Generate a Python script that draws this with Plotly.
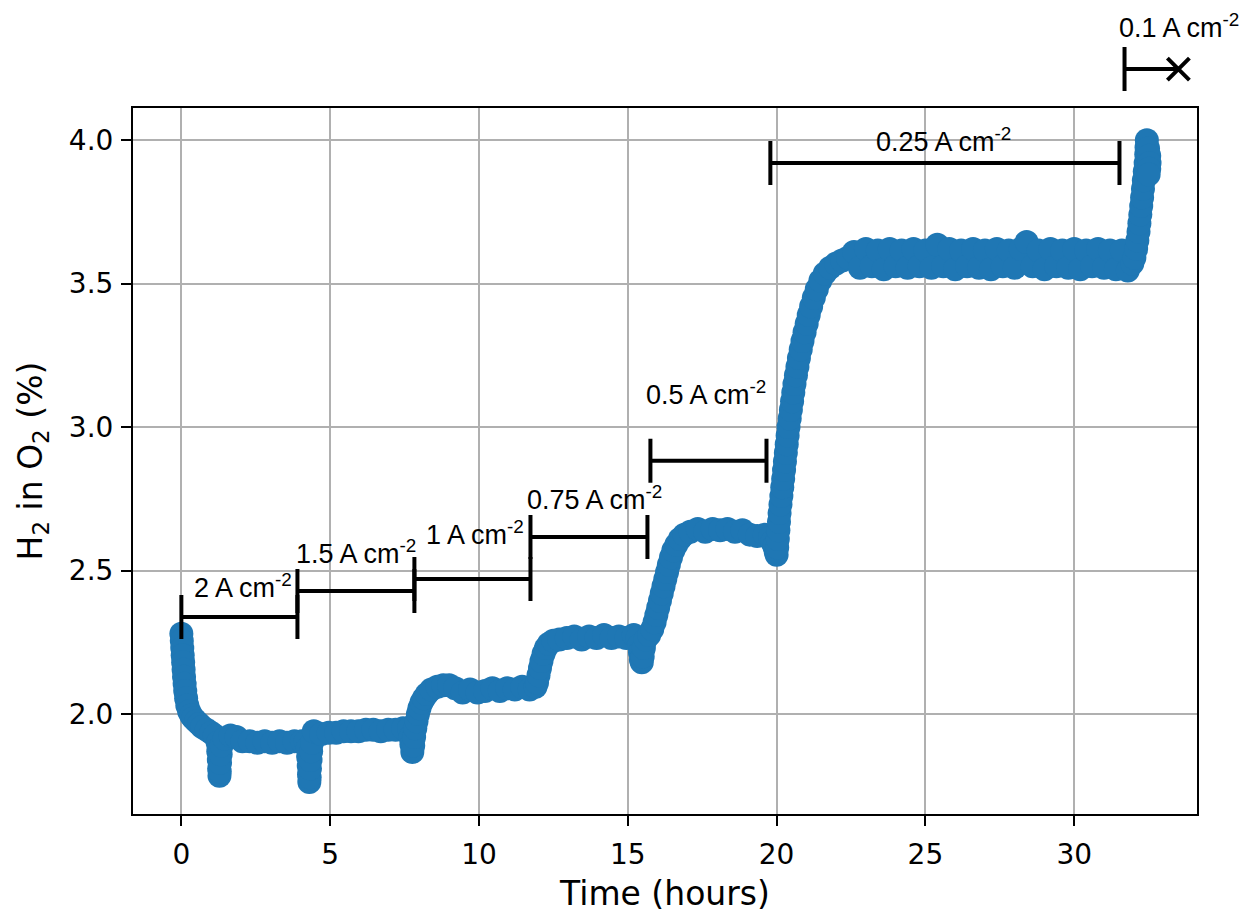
import plotly.graph_objects as go

# Measured H2-in-O2 content, one pair of lists per current-density hold
# start-up decay and the 2 A cm-2 hold
t_2A = [0.00, 0.015, 0.03, 0.045, 0.06, 0.075, 0.09, 0.11, 0.13, 0.16, 0.20, 0.26, 0.33, 0.40, 0.50, 0.60, 0.70, 0.85, 1.00, 1.12,
        1.22, 1.24, 1.26, 1.27, 1.28, 1.29, 1.30, 1.32, 1.35,
        1.45, 1.65, 1.85, 2.05, 2.30, 2.55, 2.80, 3.05, 3.30, 3.55, 3.80, 4.05, 4.18,
        4.24, 4.26, 4.28, 4.29, 4.30, 4.31, 4.32, 4.34, 4.36, 4.39]
h_2A = [2.28, 2.255, 2.23, 2.205, 2.18, 2.155, 2.13, 2.105, 2.08, 2.055, 2.03, 2.01, 1.995, 1.985, 1.975, 1.965, 1.955, 1.945, 1.935, 1.925,
        1.90, 1.87, 1.84, 1.81, 1.785, 1.80, 1.83, 1.86, 1.89,
        1.915, 1.925, 1.92, 1.905, 1.905, 1.90, 1.905, 1.90, 1.905, 1.90, 1.905, 1.905, 1.905,
        1.88, 1.85, 1.82, 1.79, 1.763, 1.78, 1.81, 1.84, 1.87, 1.90]

# 1.5 A cm-2 hold
t_15A = [4.45, 4.70, 4.95, 5.20, 5.45, 5.70, 5.95, 6.20, 6.45, 6.70, 6.95, 7.20, 7.45, 7.65,
         7.70, 7.73, 7.76, 7.79, 7.82]
h_15A = [1.94, 1.93, 1.935, 1.935, 1.94, 1.94, 1.94, 1.945, 1.945, 1.94, 1.945, 1.945, 1.95, 1.95,
         1.92, 1.895, 1.868, 1.89, 1.92]

# 1 A cm-2 hold
t_1A = [7.86, 7.90, 7.95, 8.00, 8.07, 8.15, 8.25, 8.40, 8.60, 8.80, 9.00, 9.20, 9.45, 9.70, 9.95, 10.2,
        10.45, 10.7, 10.95, 11.2, 11.45, 11.7, 11.9]
h_1A = [1.95, 1.975, 2.00, 2.02, 2.04, 2.055, 2.07, 2.085, 2.095, 2.10, 2.10, 2.09, 2.075, 2.085, 2.075, 2.08,
        2.09, 2.08, 2.09, 2.085, 2.095, 2.085, 2.095]

# 0.75 A cm-2 hold
t_075A = [11.95, 12.0, 12.05, 12.1, 12.17, 12.25, 12.35, 12.5, 12.7, 12.95, 13.2, 13.45, 13.7, 13.95, 14.2, 14.45,
          14.7, 14.95, 15.2, 15.32,
          15.38, 15.41, 15.44, 15.47, 15.50, 15.54]
h_075A = [2.11, 2.135, 2.16, 2.185, 2.21, 2.23, 2.245, 2.255, 2.26, 2.265, 2.27, 2.26, 2.27, 2.265, 2.275, 2.265,
          2.27, 2.265, 2.275, 2.265,
          2.24, 2.215, 2.19, 2.18, 2.20, 2.23]

# 0.5 A cm-2 hold
t_05A = [15.60, 15.72, 15.82, 15.90, 15.96, 16.02, 16.08, 16.14, 16.20, 16.26, 16.32, 16.38, 16.45, 16.53, 16.63,
         16.75, 16.90, 17.1,
         17.35, 17.6, 17.85, 18.1, 18.35, 18.6, 18.85, 19.1, 19.35, 19.6, 19.78,
         19.85, 19.92, 19.97, 20.0]
h_05A = [2.26, 2.275, 2.295, 2.32, 2.345, 2.37, 2.395, 2.42, 2.445, 2.47, 2.495, 2.52, 2.545, 2.57, 2.59,
         2.61, 2.625, 2.635,
         2.645, 2.635, 2.645, 2.64, 2.645, 2.635, 2.64, 2.625, 2.62, 2.625, 2.615,
         2.60, 2.585, 2.565, 2.555]

# 0.25 A cm-2 hold
t_025A = [20.02, 20.04, 20.06, 20.08, 20.10, 20.13, 20.16, 20.19, 20.22, 20.25, 20.28, 20.31, 20.34, 20.37, 20.40,
          20.44, 20.48, 20.52, 20.56, 20.60, 20.65, 20.70, 20.75, 20.81, 20.87, 20.94, 21.01, 21.08, 21.16, 21.25,
          21.35, 21.47, 21.62, 21.80, 22.00, 22.20, 22.40,
          22.6, 22.8, 23.0, 23.2, 23.4, 23.6, 23.8, 24.0, 24.2, 24.4,
          24.6, 24.8, 25.0, 25.2, 25.4, 25.6, 25.8, 26.0, 26.2, 26.4,
          26.6, 26.8, 27.0, 27.2, 27.4, 27.6, 27.8, 28.0, 28.2, 28.4,
          28.6, 28.8, 29.0, 29.2, 29.4, 29.6, 29.8, 30.0, 30.2, 30.4,
          30.6, 30.8, 31.0, 31.2, 31.4, 31.6, 31.8]
h_025A = [2.58, 2.61, 2.64, 2.67, 2.70, 2.73, 2.76, 2.79, 2.82, 2.85, 2.88, 2.91, 2.94, 2.97, 3.00,
          3.03, 3.06, 3.09, 3.12, 3.15, 3.18, 3.21, 3.24, 3.27, 3.30, 3.33, 3.36, 3.39, 3.42, 3.45,
          3.48, 3.51, 3.535, 3.555, 3.57, 3.58, 3.59,
          3.61, 3.555, 3.62, 3.56, 3.615, 3.55, 3.62, 3.56, 3.615, 3.555,
          3.62, 3.56, 3.615, 3.555, 3.635, 3.56, 3.62, 3.55, 3.615, 3.56,
          3.62, 3.555, 3.615, 3.55, 3.62, 3.56, 3.615, 3.555, 3.62, 3.645,
          3.56, 3.615, 3.55, 3.62, 3.56, 3.615, 3.555, 3.62, 3.55, 3.615,
          3.56, 3.62, 3.555, 3.615, 3.55, 3.615, 3.545]

# 0.1 A cm-2 hold
t_01A = [31.95, 32.02, 32.08, 32.12, 32.16, 32.19, 32.22, 32.25, 32.28, 32.31, 32.34, 32.37, 32.40, 32.42,
         32.43, 32.44, 32.48, 32.52, 32.53, 32.52, 32.50]
h_01A = [3.57, 3.59, 3.62, 3.65, 3.68, 3.71, 3.74, 3.77, 3.80, 3.83, 3.86, 3.89, 3.92, 3.95,
         3.975, 3.999, 3.97, 3.945, 3.92, 3.90, 3.88]

time_h = t_2A + t_15A + t_1A + t_075A + t_05A + t_025A + t_01A
h2_pct = h_2A + h_15A + h_1A + h_075A + h_05A + h_025A + h_01A

# Current-density holds: label, start (h), end (h), bracket level (%), label position
step_labels = ["2 A cm<sup>-2</sup>", "1.5 A cm<sup>-2</sup>", "1 A cm<sup>-2</sup>",
               "0.75 A cm<sup>-2</sup>", "0.5 A cm<sup>-2</sup>", "0.25 A cm<sup>-2</sup>"]
step_start = [0.0, 3.9, 7.83, 11.73, 15.76, 19.79]
step_end = [3.9, 7.83, 11.73, 15.66, 19.66, 31.52]
step_level = [2.338, 2.429, 2.470, 2.617, 2.882, 3.920]
label_t = [2.08, 5.88, 9.85, 13.88, 17.64, 25.6]
label_level = [2.404, 2.523, 2.589, 2.711, 3.077, 3.958]

# Final hold at 0.1 A cm-2 (ended early, marked with a cross)
last_label = "0.1 A cm<sup>-2</sup>"
last_start = 31.69
last_end = 33.5
last_level = 4.247
last_label_t = 33.53
last_label_level = 4.355

x_range = [-1.625, 34.125]
y_range = [1.6516, 4.1115]
y_ticks = [2.0, 2.5, 3.0, 3.5, 4.0]
x_ticks = [0, 5, 10, 15, 20, 25, 30]

# Figure geometry (pixels)
W, H = 1249, 913
M_L, M_R, M_T, M_B = 133, 52, 0, 99
AX_TOP = 108  # top edge of the framed axes
plot_h = H - M_T - M_B
main_dom_top = (plot_h - (AX_TOP - M_T)) / plot_h
# the overlay axis spans the full plotting height with the same data scale
px_per_unit = (plot_h - (AX_TOP - M_T)) / (y_range[1] - y_range[0])
y2_range = [y_range[0], y_range[0] + plot_h / px_per_unit]

BLUE = "#1f77b4"
TICK_FONT = dict(family="DejaVu Sans", size=28, color="black")
TITLE_FONT = dict(family="DejaVu Sans", size=33, color="black")
LABEL_FONT = dict(family="Liberation Sans, Arial", size=27, color="black")

fig = go.Figure()

fig.add_trace(go.Scatter(
    x=time_h, y=h2_pct, mode="lines+markers",
    line=dict(color=BLUE, width=12),
    marker=dict(color=BLUE, size=24, line=dict(width=0)),
    showlegend=False, hoverinfo="skip",
))

# Bracket bars for each hold
for s, e, lv in zip(step_start, step_end, step_level):
    fig.add_trace(go.Scatter(
        x=[(s + e) / 2], y=[lv], mode="markers",
        marker=dict(size=1, color="rgba(0,0,0,0)"),
        error_x=dict(type="data", array=[(e - s) / 2], symmetric=True,
                     width=22, thickness=4, color="black"),
        xaxis="x2", yaxis="y2", showlegend=False, hoverinfo="skip",
    ))

# Final hold: left cap, bar and cross
fig.add_trace(go.Scatter(
    x=[last_start, last_end], y=[last_level, last_level], mode="lines",
    line=dict(color="black", width=4),
    xaxis="x2", yaxis="y2", showlegend=False, hoverinfo="skip",
))
fig.add_trace(go.Scatter(
    x=[last_start], y=[last_level], mode="markers",
    marker=dict(size=1, color="rgba(0,0,0,0)"),
    error_x=dict(type="data", array=[0], arrayminus=[0], symmetric=False,
                 width=22, thickness=4, color="black"),
    xaxis="x2", yaxis="y2", showlegend=False, hoverinfo="skip",
))
fig.add_trace(go.Scatter(
    x=[last_end], y=[last_level], mode="markers",
    marker=dict(symbol="x-thin-open", size=22, color="black", line=dict(width=4, color="black")),
    xaxis="x2", yaxis="y2", showlegend=False, hoverinfo="skip",
))

annotations = []
for txt, t, lv in zip(step_labels + [last_label], label_t + [last_label_t],
                      label_level + [last_label_level]):
    annotations.append(dict(
        text=txt, x=t, y=lv, xref="x2", yref="y2", showarrow=False,
        xanchor="center", yanchor="bottom", yshift=-7, font=LABEL_FONT,
    ))

axis_common = dict(
    showline=True, mirror=True, linecolor="black", linewidth=2,
    ticks="outside", ticklen=10, tickwidth=2, tickcolor="black",
    showgrid=True, gridcolor="#b0b0b0", gridwidth=2, zeroline=False,
    tickfont=TICK_FONT,
)

fig.update_layout(
    width=W, height=H,
    margin=dict(l=M_L, r=M_R, t=M_T, b=M_B, pad=0),
    paper_bgcolor="white", plot_bgcolor="rgba(0,0,0,0)",
    xaxis=dict(range=x_range, domain=[0, 1], tickvals=x_ticks, anchor="y",
               title=dict(text="Time (hours)", font=TITLE_FONT, standoff=18),
               ticklabelstandoff=4, **axis_common),
    yaxis=dict(range=y_range, domain=[0, main_dom_top], tickvals=y_ticks, tickformat=".1f",
               anchor="x",
               title=dict(text="H<sub>2</sub> in O<sub>2</sub> (%)", font=TITLE_FONT, standoff=16),
               ticklabelstandoff=2, **axis_common),
    xaxis2=dict(range=x_range, domain=[0, 1], anchor="y2", visible=False),
    yaxis2=dict(range=y2_range, domain=[0, 1], anchor="x2", visible=False),
    annotations=annotations,
    showlegend=False,
)

fig.write_html("out.html")
